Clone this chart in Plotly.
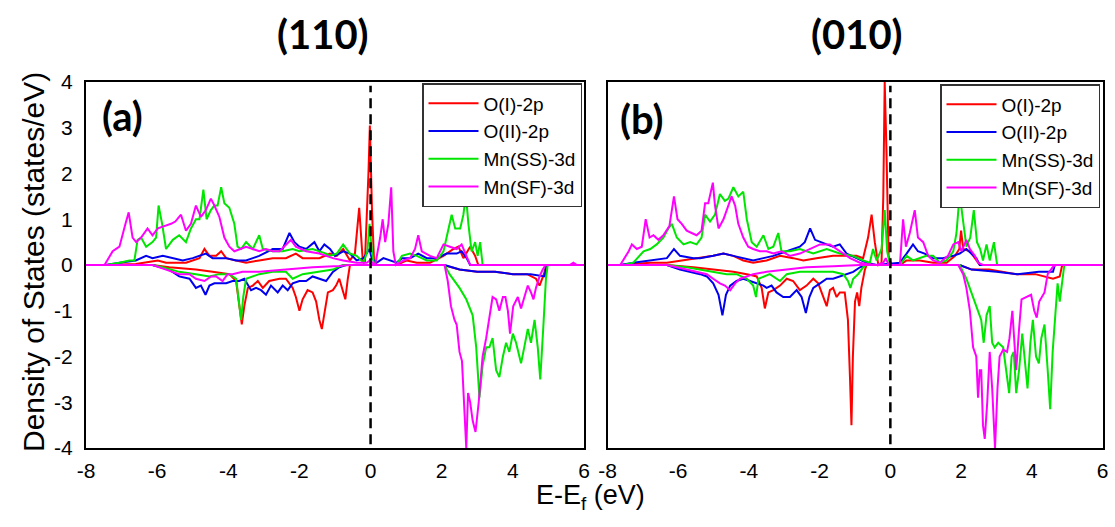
import plotly.graph_objects as go

# ---------------- labels / categories ----------------
SPECIES = ["O(I)-2p", "O(II)-2p", "Mn(SS)-3d", "Mn(SF)-3d"]
COLORS = ["#ff0000", "#0000ee", "#00e600", "#ff00ff"]
PANEL_TITLES = ["(110)", "(010)"]
PANEL_LABELS = ["(a)", "(b)"]
X_TICKS = [-8, -6, -4, -2, 0, 2, 4, 6]
Y_TICKS = [-4, -3, -2, -1, 0, 1, 2, 3, 4]
X_TICK_TEXT = ["-8", "-6", "-4", "-2", "0", "2", "4", "6"]
Y_TICK_TEXT = ["-4", "-3", "-2", "-1", "0", "1", "2", "3", "4"]
FERMI_LEVEL = 0

# ---------------- panel (a): (110) ----------------
A_OI_UP_E = [-8, -7.44, -6.6, -5.98, -5.75, -5.19, -4.81, -4.67, -4.53, -4.34, -4.2, -4.06, -3.78, -3.5, -3.13,
             -2.75, -2.38, -2.1, -1.91, -1.44, -1.14, -0.95, -0.77, -0.58, -0.44, -0.32, -0.22, -0.16, -0.06, -0.02,
             0.04, 0.1, 0.17, 0.73, 1.02, 1.3, 1.67, 2.05, 2.33, 2.47, 2.61, 2.8, 2.94, 3.03, 6]
A_OI_UP_D = [0, 0, 0.02, 0.1, 0.05, 0.05, 0.15, 0.35, 0.2, 0.2, 0.3, 0.15, 0.1, 0.05, 0.1,
             0.15, 0.15, 0.25, 0.15, 0.15, 0.25, 0.2, 0.35, 0.1, 0.25, 1.25, 0.1, 0.05, 2.0, 3.05,
             1.2, 0.05, 0, 0, 0.1, 0.05, 0.05, 0.2, 0.35, 0.4, 0.15, 0.4, 0.2, 0, 0]
A_OI_DN_E = [-8, -6.13, -5.66, -4.91, -4.44, -3.97, -3.78, -3.69, -3.62, -3.55, -3.45, -3.31, -3.17, -3.03, -2.85,
             -2.56, -2.38, -2.19, -2.1, -2.0, -1.91, -1.77, -1.63, -1.53, -1.44, -1.37, -1.3, -1.2, -1.06, -0.97,
             -0.88, -0.78, -0.71, -0.64, -0.58, 2.05, 2.5, 3.0, 3.5, 4.0, 4.4, 4.65, 4.75, 4.85, 4.95, 6]
A_OI_DN_D = [0, 0, -0.05, -0.1, -0.15, -0.2, -0.35, -0.9, -1.3, -0.9, -0.5, -0.45, -0.35, -0.5, -0.35,
             -0.3, -0.3, -0.5, -0.7, -1.0, -0.75, -0.55, -0.6, -0.8, -1.2, -1.4, -1.1, -0.6, -0.55, -0.45,
             -0.3, -0.6, -0.75, -0.3, 0, 0, -0.1, -0.15, -0.15, -0.2, -0.2, -0.3, -0.45, -0.25, 0, 0]

A_OII_UP_E = [-8, -7.44, -7.06, -6.6, -6.31, -6.13, -5.84, -5.56, -5.28, -5.0, -4.63, -4.44, -4.06, -3.78, -3.5,
              -3.31, -3.13, -2.75, -2.47, -2.28, -2.14, -2.0, -1.81, -1.58, -1.44, -1.3, -1.14, -1.0, -0.77, -0.58,
              -0.39, -0.2, -0.03, 0.03, 0.17, 0.36, 0.55, 0.73, 0.88, 1.11, 1.34, 1.58, 1.86, 2.14, 2.42,
              2.56, 2.7, 2.8, 6]
A_OII_UP_D = [0, 0, 0.05, 0.1, 0.2, 0.15, 0.2, 0.15, 0.1, 0.15, 0.25, 0.15, 0.15, 0.1, 0.1,
              0.15, 0.2, 0.35, 0.35, 0.7, 0.5, 0.4, 0.35, 0.5, 0.3, 0.45, 0.35, 0.2, 0.3, 0.25,
              0.1, 0.15, 0.35, 0.15, 0.05, 0.15, 0.1, 0.05, 0.15, 0.15, 0.25, 0.15, 0.15, 0.25, 0.25,
              0.3, 0.15, 0, 0]
A_OII_DN_E = [-8, -6.13, -5.66, -5.38, -5.09, -4.91, -4.77, -4.64, -4.53, -4.39, -4.25, -4.06, -3.88, -3.69, -3.55,
              -3.36, -3.22, -3.08, -2.94, -2.8, -2.61, -2.47, -2.33, -2.19, -2.0, -1.81, -1.63, -1.44, -1.25, -1.06,
              -0.88, -0.69, 2.08, 2.5, 3.0, 3.5, 4.0, 4.5, 4.9, 4.93, 6]
A_OII_DN_D = [0, 0, -0.1, -0.25, -0.3, -0.5, -0.45, -0.65, -0.45, -0.4, -0.4, -0.4, -0.35, -0.35, -0.3,
              -0.55, -0.5, -0.55, -0.65, -0.45, -0.6, -0.45, -0.55, -0.4, -0.35, -0.35, -0.25, -0.3, -0.35, -0.15,
              -0.05, 0, 0, -0.1, -0.15, -0.15, -0.2, -0.2, -0.25, 0, 0]

A_SS_UP_E = [-8, -7.44, -7.06, -6.78, -6.64, -6.55, -6.45, -6.31, -6.13, -6.03, -5.96, -5.86, -5.75, -5.56, -5.38,
             -5.19, -5.05, -4.91, -4.81, -4.7, -4.61, -4.49, -4.39, -4.3, -4.2, -4.11, -3.97, -3.83, -3.74, -3.64,
             -3.5, -3.31, -3.13, -3.03, -2.75, -2.47, -2.19, -2.0, -1.63, -1.25, -1.14, -0.95, -0.77, -0.58, -0.39,
             -0.2, -0.09, -0.03, 0.04, 0.1, 0.73, 0.88, 1.11, 1.3, 1.58, 1.86, 2.05, 2.19, 2.28, 2.38,
             2.52, 2.61, 2.68, 2.75, 2.84, 2.94, 3.01, 3.08, 3.15, 6]
A_SS_UP_D = [0, 0, 0.05, 0.1, 0.1, 0.55, 0.6, 0.4, 0.5, 0.6, 1.3, 0.9, 0.35, 0.55, 0.65,
             0.5, 0.8, 1.0, 1.0, 1.65, 1.0, 1.2, 1.3, 1.3, 1.7, 1.35, 1.25, 0.9, 0.4, 0.35,
             0.5, 0.35, 0.65, 0.35, 0.3, 0.3, 0.35, 0.3, 0.35, 0.25, 0.2, 0.25, 0.45, 0.25, 0.2,
             0.05, 0.3, 0.9, 0.3, 0, 0, 0.2, 0.25, 0.2, 0.1, 0.1, 0.3, 0.75, 1.1, 0.8,
             0.8, 1.1, 1.55, 0.9, 0.3, 0.5, 0.2, 0.5, 0, 0]
A_SS_DN_E = [-8, -6.13, -5.84, -5.38, -4.91, -4.53, -4.25, -3.97, -3.78, -3.71, -3.64, -3.58, -3.5, -3.13, -2.75,
             -2.38, -2.19, -1.91, -1.44, -1.06, -0.78, 2.08, 2.22, 2.31, 2.5, 2.69, 2.87, 2.97, 3.06, 3.15,
             3.25, 3.34, 3.43, 3.53, 3.62, 3.72, 3.81, 3.9, 4.0, 4.09, 4.23, 4.32, 4.42, 4.51, 4.61,
             4.7, 4.77, 4.86, 4.93, 4.98, 6]
A_SS_DN_D = [0, 0, -0.05, -0.15, -0.2, -0.25, -0.2, -0.2, -0.3, -0.7, -1.2, -0.7, -0.3, -0.2, -0.15,
             -0.15, -0.3, -0.2, -0.15, -0.1, 0, 0, -0.2, -0.3, -0.5, -0.75, -1.1, -1.8, -2.9, -2.2,
             -1.8, -1.8, -1.6, -2.3, -2.45, -2.0, -1.7, -1.9, -1.5, -1.7, -2.15, -1.8, -1.4, -1.7, -1.2,
             -1.8, -2.5, -1.3, -0.3, 0, 0]

A_SF_UP_E = [-8, -7.48, -7.25, -7.06, -6.89, -6.8, -6.69, -6.59, -6.45, -6.27, -6.13, -5.98, -5.8, -5.61, -5.49,
             -5.33, -5.19, -5.05, -4.91, -4.77, -4.63, -4.49, -4.39, -4.25, -4.11, -3.97, -3.83, -3.69, -3.5, -3.31,
             -3.13, -2.94, -2.75, -2.56, -2.38, -2.24, -2.1, -1.81, -1.44, -1.06, -0.77, -0.39, -0.11, -0.02, 0.13,
             0.27, 0.34, 0.41, 0.5, 0.58, 0.64, 0.71, 0.92, 1.11, 1.25, 1.34, 1.44, 1.67, 1.86, 2.05,
             2.23, 2.42, 2.56, 2.7, 2.8, 5.6, 5.7, 5.8, 6]
A_SF_UP_D = [0, 0, 0.3, 0.4, 0.9, 1.15, 0.6, 0.5, 0.6, 0.8, 0.65, 0.8, 0.85, 0.9, 0.95,
             1.1, 0.75, 0.9, 1.3, 1.05, 1.2, 1.45, 1.3, 1.05, 0.6, 0.4, 0.3, 0.35, 0.4, 0.35,
             0.3, 0.35, 0.3, 0.3, 0.45, 0.55, 0.4, 0.3, 0.25, 0.15, 0.1, 0.05, 0.05, 0.1, 0,
             0.6, 1.0, 0.5, 0.9, 1.7, 0.3, 0, 0.1, 0.15, 0.35, 0.65, 0.3, 0.2, 0.15, 0.45,
             0.4, 0.35, 0.45, 0.2, 0, 0, 0.05, 0, 0]
A_SF_DN_E = [-8, -6.13, -5.75, -5.38, -5.09, -4.91, -4.67, -4.48, -4.34, -4.16, -4.02, -3.88, -3.6, -3.13, -2.38,
             -1.63, -0.88, -0.6, 2.08, 2.17, 2.26, 2.36, 2.42, 2.5, 2.57, 2.64, 2.69, 2.74, 2.8, 2.87,
             2.95, 3.04, 3.15, 3.25, 3.34, 3.43, 3.53, 3.62, 3.72, 3.79, 3.86, 3.92, 4.01, 4.14, 4.23,
             4.32, 4.42, 4.51, 4.58, 4.65, 4.75, 4.84, 4.92, 6]
A_SF_DN_D = [0, 0, -0.1, -0.2, -0.2, -0.3, -0.35, -0.25, -0.25, -0.35, -0.2, -0.2, -0.15, -0.15, -0.1,
             -0.05, -0.02, 0, 0, -0.35, -0.9, -1.2, -1.3, -1.9, -2.1, -3.2, -4.0, -2.8, -3.0, -3.4,
             -3.65, -3.0, -2.0, -1.6, -1.1, -0.7, -0.75, -1.0, -0.7, -0.7, -1.0, -1.5, -0.9, -0.7, -0.95,
             -0.7, -0.45, -0.6, -0.75, -0.5, -0.25, -0.1, 0, 0]

# ---------------- panel (b): (010) ----------------
B_OI_UP_E = [-8, -7.64, -7.27, -6.79, -6.32, -5.85, -5.38, -5.01, -4.72, -4.44, -4.16, -3.88, -3.5, -3.12, -2.75,
             -2.46, -2.09, -1.62, -1.24, -0.96, -0.77, -0.63, -0.53, -0.44, -0.34, -0.25, -0.2, -0.16, -0.11, -0.05,
             0.03, 0.27, 0.46, 0.83, 1.21, 1.59, 1.83, 1.95, 2.0, 2.06, 2.25, 2.39, 2.53, 6]
B_OI_UP_D = [0, 0, 0.02, 0.05, 0.05, 0.1, 0.15, 0.2, 0.25, 0.2, 0.1, 0.05, 0.1, 0.2, 0.15,
             0.1, 0.15, 0.2, 0.2, 0.2, 0.15, 0.6, 1.1, 0.5, 0, 0.05, 1.5, 4.0, 2.5, 0.2,
             0, 0, 0.1, 0.1, 0.05, 0.05, 0.2, 0.35, 0.75, 0.35, 0.3, 0.15, 0, 0]
B_OI_DN_E = [-8, -6.32, -5.57, -4.91, -4.44, -4.06, -3.78, -3.64, -3.55, -3.45, -3.31, -3.12, -2.93, -2.75, -2.56,
             -2.37, -2.18, -2.04, -1.9, -1.8, -1.71, -1.62, -1.52, -1.43, -1.29, -1.2, -1.14, -1.1, -1.06, -1.0,
             -0.94, -0.88, -0.82, -0.72, -0.67, 1.96, 2.3, 2.8, 3.56, 4.1, 4.6, 4.79, 4.86, 6]
B_OI_DN_D = [0, 0, -0.05, -0.1, -0.15, -0.2, -0.25, -0.5, -0.95, -0.6, -0.55, -0.45, -0.3, -0.35, -0.55,
             -0.45, -0.3, -0.4, -0.7, -0.9, -0.55, -0.5, -0.7, -0.6, -0.6, -1.2, -2.5, -3.5, -2.0, -0.8,
             -0.6, -0.9, -0.5, -0.1, 0, 0, -0.1, -0.1, -0.2, -0.2, -0.3, -0.25, 0, 0]

B_OII_UP_E = [-8, -7.64, -7.27, -6.79, -6.32, -6.12, -5.95, -5.57, -5.38, -5.01, -4.72, -4.44, -4.16, -3.88, -3.59,
              -3.31, -2.93, -2.56, -2.42, -2.27, -2.13, -1.99, -1.8, -1.62, -1.43, -1.24, -0.96, -0.67, -0.39, 0.27,
              0.46, 0.64, 0.78, 0.97, 1.21, 1.49, 1.78, 1.96, 2.15, 2.29, 2.43, 2.53, 6]
B_OII_UP_D = [0, 0, 0.05, 0.1, 0.15, 0.35, 0.2, 0.15, 0.15, 0.2, 0.25, 0.2, 0.15, 0.1, 0.15,
              0.2, 0.3, 0.4, 0.5, 0.8, 0.55, 0.5, 0.45, 0.4, 0.45, 0.25, 0.15, 0.05, 0, 0.05,
              0.25, 0.45, 0.3, 0.25, 0.15, 0.15, 0.2, 0.25, 0.35, 0.25, 0.15, 0, 0]
B_OII_DN_E = [-8, -6.32, -5.95, -5.66, -5.38, -5.19, -5.01, -4.86, -4.75, -4.65, -4.53, -4.35, -4.16, -3.97, -3.78,
              -3.59, -3.5, -3.36, -3.22, -3.03, -2.84, -2.65, -2.51, -2.39, -2.29, -2.18, -1.99, -1.8, -1.62, -1.43,
              -1.24, -1.05, -0.86, -0.67, 1.96, 2.3, 3.0, 3.6, 4.2, 4.6, 4.65, 6]
B_OII_DN_D = [0, 0, -0.1, -0.15, -0.2, -0.25, -0.4, -0.65, -1.1, -0.65, -0.45, -0.35, -0.3, -0.35, -0.4,
              -0.45, -0.5, -0.45, -0.6, -0.7, -0.7, -0.55, -0.7, -1.05, -0.7, -0.5, -0.4, -0.3, -0.3, -0.25,
              -0.2, -0.15, -0.05, 0, 0, -0.1, -0.15, -0.2, -0.15, -0.15, 0, 0]

B_SS_UP_E = [-8, -7.55, -7.27, -6.98, -6.79, -6.61, -6.42, -6.28, -6.18, -6.04, -5.85, -5.66, -5.48, -5.34, -5.24,
             -5.1, -4.96, -4.82, -4.68, -4.58, -4.44, -4.3, -4.16, -4.06, -3.92, -3.78, -3.59, -3.45, -3.31, -3.17,
             -3.08, -2.84, -2.56, -2.18, -1.8, -1.43, -1.05, -0.77, -0.58, -0.49, -0.39, -0.25, -0.16, -0.09, -0.01,
             0.27, 0.46, 0.64, 1.02, 1.21, 1.4, 1.59, 1.78, 1.87, 1.96, 2.06, 2.15, 2.26, 2.36, 2.45,
             2.54, 2.62, 2.72, 2.81, 2.93, 3.02, 6]
B_SS_UP_D = [0, 0, 0.05, 0.3, 0.35, 0.45, 0.6, 0.8, 0.9, 0.6, 0.45, 0.5, 0.45, 0.6, 1.1,
             0.95, 1.1, 1.55, 1.4, 1.45, 1.7, 1.5, 1.6, 1.0, 0.5, 0.4, 0.65, 0.35, 0.4, 0.7,
             0.3, 0.3, 0.35, 0.25, 0.35, 0.25, 0.2, 0.1, 0.05, 0.35, 0.1, 0.35, 1.2, 0.3, 0,
             0, 0.2, 0.1, 0.2, 0.2, 0.05, 0.1, 0.3, 0.7, 1.55, 1.0, 0.4, 0.6, 1.2, 0.5,
             0.35, 0.1, 0.45, 0.1, 0.5, 0, 0]
B_SS_DN_E = [-8, -6.32, -5.76, -5.38, -5.01, -4.63, -4.35, -4.06, -3.88, -3.8, -3.73, -3.59, -3.41, -3.12, -2.93,
             -2.56, -2.09, -1.62, -1.33, -1.2, -1.13, -1.05, -0.91, -0.77, -0.67, 1.96, 2.15, 2.29, 2.43, 2.57,
             2.64, 2.72, 2.81, 2.88, 2.95, 3.05, 3.19, 3.28, 3.36, 3.43, 3.49, 3.56, 3.64, 3.73, 3.81,
             3.88, 3.96, 4.03, 4.12, 4.2, 4.27, 4.36, 4.45, 4.52, 4.59, 4.67, 4.73, 4.79, 4.87, 4.92, 6]
B_SS_DN_D = [0, 0, -0.05, -0.1, -0.15, -0.2, -0.2, -0.3, -0.45, -0.7, -0.3, -0.25, -0.2, -0.35, -0.2,
             -0.15, -0.15, -0.15, -0.2, -0.35, -0.5, -0.3, -0.2, -0.05, 0, 0, -0.3, -0.6, -0.9, -1.2,
             -1.7, -1.1, -0.9, -1.7, -1.8, -1.7, -1.8, -2.3, -2.8, -2.0, -1.9, -2.8, -2.3, -1.5, -2.1,
             -2.7, -1.7, -1.2, -2.0, -2.15, -1.6, -1.3, -2.3, -3.15, -1.9, -0.9, -0.4, -0.8, -0.3, 0, 0]

B_SF_UP_E = [-8, -7.64, -7.4, -7.31, -7.17, -7.03, -6.92, -6.81, -6.7, -6.56, -6.42, -6.25, -6.12, -6.02, -5.9,
             -5.76, -5.62, -5.48, -5.34, -5.24, -5.15, -5.02, -4.96, -4.86, -4.72, -4.58, -4.49, -4.39, -4.3, -4.16,
             -4.02, -3.88, -3.69, -3.5, -3.31, -3.08, -2.84, -2.56, -2.27, -1.99, -1.71, -1.43, -1.14, -0.86, -0.67,
             -0.39, -0.2, -0.13, -0.05, 0.27, 0.36, 0.44, 0.55, 0.69, 0.78, 0.93, 1.07, 1.21, 1.4, 1.63,
             1.78, 1.92, 2.01, 2.15, 2.25, 2.39, 2.48, 2.62, 6]
B_SF_UP_D = [0, 0, 0.3, 0.45, 0.35, 0.4, 1.0, 0.6, 0.65, 0.55, 0.65, 0.85, 1.5, 1.0, 0.9,
             0.75, 0.7, 0.65, 0.75, 1.35, 1.35, 1.8, 1.3, 0.8, 1.0, 1.3, 1.5, 1.3, 0.9, 0.6,
             0.4, 0.35, 0.3, 0.3, 0.25, 0.3, 0.2, 0.25, 0.35, 0.45, 0.45, 0.3, 0.15, 0.05, 0.02,
             0, 0.05, 0.15, 0, 0, 1.0, 0.4, 0.7, 1.2, 0.6, 0.5, 0.2, 0.1, 0.05, 0.2,
             0.45, 0.5, 0.3, 0.55, 0.35, 0.2, 0.05, 0, 0]
B_SF_DN_E = [-8, -6.32, -5.76, -5.48, -5.19, -5.01, -4.82, -4.68, -4.53, -4.39, -4.25, -4.06, -3.88, -3.5, -2.93,
             -2.37, -1.62, -0.86, 1.92, 2.06, 2.15, 2.25, 2.34, 2.43, 2.48, 2.53, 2.57, 2.62, 2.67, 2.74,
             2.81, 2.88, 2.96, 3.03, 3.09, 3.19, 3.3, 3.37, 3.45, 3.51, 3.56, 3.64, 3.71, 3.84, 3.98,
             4.07, 4.14, 4.21, 4.36, 4.45, 4.59, 4.68, 6]
B_SF_DN_D = [0, 0, -0.1, -0.15, -0.2, -0.3, -0.4, -0.45, -0.55, -0.4, -0.3, -0.25, -0.2, -0.15, -0.1,
             -0.05, -0.03, 0, 0, -0.2, -0.5, -1.0, -1.8, -2.0, -2.9, -2.3, -2.3, -3.5, -3.8, -3.0,
             -1.9, -2.7, -4.0, -2.7, -2.0, -1.85, -1.9, -1.6, -1.0, -1.8, -2.3, -1.4, -0.75, -0.7, -0.65,
             -1.0, -1.15, -0.8, -0.6, -0.2, -0.05, 0, 0]

PANELS = [
    [(A_OI_UP_E, A_OI_UP_D, A_OI_DN_E, A_OI_DN_D),
     (A_OII_UP_E, A_OII_UP_D, A_OII_DN_E, A_OII_DN_D),
     (A_SS_UP_E, A_SS_UP_D, A_SS_DN_E, A_SS_DN_D),
     (A_SF_UP_E, A_SF_UP_D, A_SF_DN_E, A_SF_DN_D)],
    [(B_OI_UP_E, B_OI_UP_D, B_OI_DN_E, B_OI_DN_D),
     (B_OII_UP_E, B_OII_UP_D, B_OII_DN_E, B_OII_DN_D),
     (B_SS_UP_E, B_SS_UP_D, B_SS_DN_E, B_SS_DN_D),
     (B_SF_UP_E, B_SF_UP_D, B_SF_DN_E, B_SF_DN_D)],
]

# ---------------- figure ----------------
W, H = 1115, 527


def px_x(p):
    return p / W


def px_y(p):
    return 1 - p / H


fig = go.Figure()

for pi, panel in enumerate(PANELS):
    xa = "x" if pi == 0 else "x2"
    ya = "y" if pi == 0 else "y2"
    leg = "legend" if pi == 0 else "legend2"
    for si, (ue, ud, de, dd) in enumerate(panel):
        assert len(ue) == len(ud), (pi, si, "up", len(ue), len(ud))
        assert len(de) == len(dd), (pi, si, "dn", len(de), len(dd))
        fig.add_trace(go.Scatter(
            x=list(ue) + [None] + list(de),
            y=list(ud) + [None] + list(dd),
            mode="lines",
            name=SPECIES[si],
            line=dict(color=COLORS[si], width=2),
            xaxis=xa, yaxis=ya, legend=leg,
            connectgaps=False,
        ))

FONT = "Liberation Sans, Arial, sans-serif"
BOLD_FONT = "Lato, Liberation Sans, Arial, sans-serif"

axis_common = dict(
    showgrid=False, zeroline=False, showline=True, mirror=True,
    linecolor="black", linewidth=2, ticks="", automargin=False,
    tickfont=dict(family=FONT, size=21, color="black"),
)

X_DOMAIN_A = [px_x(86), px_x(584)]
X_DOMAIN_B = [px_x(607.5), px_x(1102.5)]
Y_DOMAIN = [px_y(448), px_y(82)]

legend_common = dict(
    xanchor="right", yanchor="top",
    bgcolor="white", bordercolor="#333333", borderwidth=1.5,
    font=dict(family=FONT, size=19, color="black"),
    itemwidth=50, tracegroupgap=0,
)

fig.update_layout(
    width=W, height=H,
    margin=dict(l=0, r=0, t=0, b=0, pad=0, autoexpand=False),
    paper_bgcolor="white", plot_bgcolor="white",
    xaxis=dict(domain=X_DOMAIN_A, range=[X_TICKS[0], X_TICKS[-1]], tickvals=X_TICKS, ticktext=X_TICK_TEXT,
               anchor="y", ticklabelstandoff=3, **axis_common),
    yaxis=dict(domain=Y_DOMAIN, range=[Y_TICKS[0], Y_TICKS[-1]], tickvals=Y_TICKS, ticktext=Y_TICK_TEXT,
               anchor="x", ticklabelstandoff=7, **axis_common),
    xaxis2=dict(domain=X_DOMAIN_B, range=[X_TICKS[0], X_TICKS[-1]], tickvals=X_TICKS, ticktext=X_TICK_TEXT,
                anchor="y2", ticklabelstandoff=3, **axis_common),
    yaxis2=dict(domain=Y_DOMAIN, range=[Y_TICKS[0], Y_TICKS[-1]], tickvals=Y_TICKS,
                anchor="x2", showticklabels=False, **axis_common),
    legend=dict(x=px_x(582), y=px_y(83), **legend_common),
    legend2=dict(x=px_x(1100), y=px_y(84), **legend_common),
    showlegend=True,
)

# Fermi level dashed lines
for xa, ya in (("x", "y"), ("x2", "y2")):
    fig.add_shape(type="line", xref=xa, yref=ya + " domain",
                  x0=FERMI_LEVEL, x1=FERMI_LEVEL, y0=0.01, y1=0.99,
                  line=dict(color="black", width=2.5, dash="10px,6px"), layer="above")

annotations = [
    # panel titles
    dict(text="<b>%s</b>" % PANEL_TITLES[0], x=px_x(323), y=px_y(34),
         font=dict(family=BOLD_FONT, size=40, color="black")),
    dict(text="<b>%s</b>" % PANEL_TITLES[1], x=px_x(857), y=px_y(34),
         font=dict(family=BOLD_FONT, size=40, color="black")),
    # panel labels
    dict(text="<b>%s</b>" % PANEL_LABELS[0], x=px_x(122), y=px_y(116),
         font=dict(family=BOLD_FONT, size=40, color="black")),
    dict(text="<b>%s</b>" % PANEL_LABELS[1], x=px_x(642), y=px_y(119),
         font=dict(family=BOLD_FONT, size=40, color="black")),
    # axis titles
    dict(text="Density of States (states/eV)", x=px_x(34), y=px_y(262), textangle=-90,
         font=dict(family=FONT, size=30, color="black")),
    dict(text="E-E<sub>f</sub> (eV)", x=px_x(590), y=px_y(497),
         font=dict(family=FONT, size=27, color="black")),
]
for a in annotations:
    a.update(xref="paper", yref="paper", showarrow=False, xanchor="center", yanchor="middle")
    fig.add_annotation(**a)

# the page's default 8px body margin would shift the figure; remove it
fig.write_html("out.html", config={"displayModeBar": False},
               post_script="document.body.style.margin='0px';")
